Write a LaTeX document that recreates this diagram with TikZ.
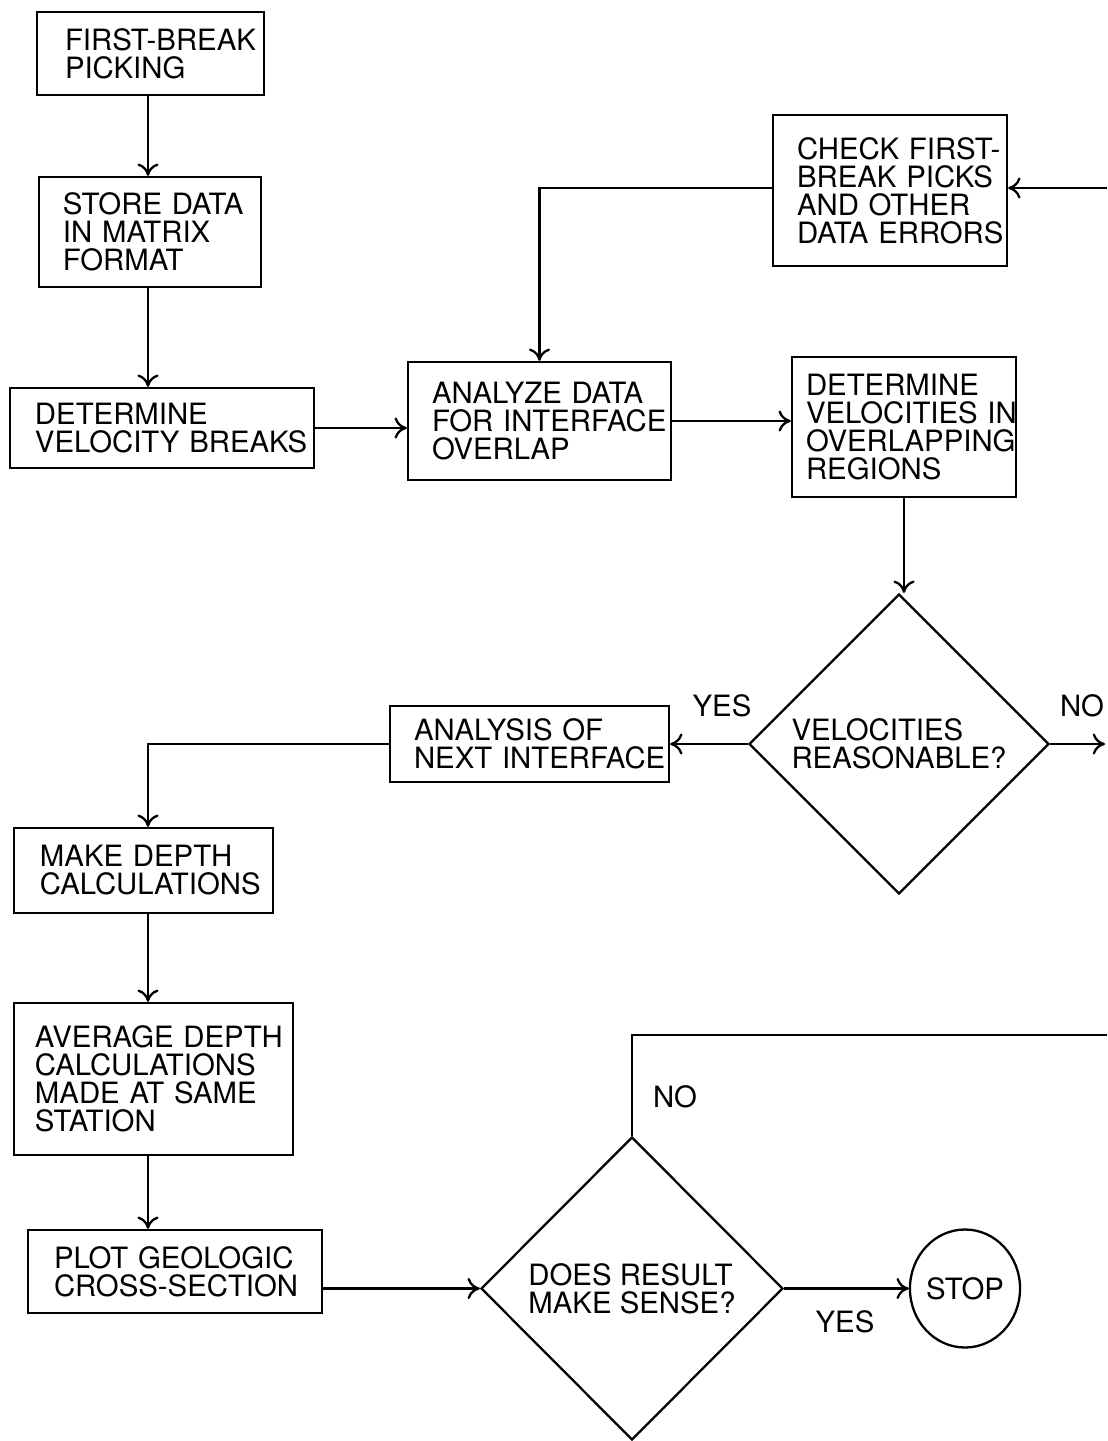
\documentclass[tikz,border=0pt]{standalone}
\usepackage{fontspec}
\setmainfont{TeX Gyre Heros}
\usetikzlibrary{shapes.geometric,arrows.meta}

\tikzset{
    box/.style={draw, align=left, inner xsep=0pt, inner ysep=2pt,
        execute at begin node={\leftskip=#1\hyphenpenalty=10000\exhyphenpenalty=10000}},
    box/.default=0.5cm,
    decision/.style={draw, diamond, align=left, inner sep=0pt,
        minimum width=6cm, minimum height=6cm},
    terminal/.style={draw, ellipse, inner sep=0pt},
}

\begin{document}
\begin{tikzpicture}[line width=1.3pt, >={To[length=7pt,width=12pt]},
    every node/.style={font=\fontsize{16.7}{15.9}\selectfont}]
    \useasboundingbox (0,0) rectangle (22.14,-28.82);
    \coordinate (spine) at (2.96,0);

    % left column
    \node[box=0.56cm, text width=4.54cm, minimum height=1.66cm] (first) at (3.01,-1.07) {FIRST-BREAK\\PICKING};
    \node[box=0.48cm, text width=4.44cm, minimum height=2.20cm] (store) at (3.00,-4.64) {STORE DATA\\IN MATRIX\\FORMAT};
    \node[box, text width=6.08cm, minimum height=1.60cm] (breaks) at (3.24,-8.56) {DETERMINE\\VELOCITY~BREAKS};

    \node[box=0.48cm, text width=5.26cm, minimum height=2.36cm] (analyze) at (10.79,-8.42) {ANALYZE DATA\\FOR~INTERFACE\\OVERLAP};
    \node[box=0.28cm, text width=4.48cm, minimum height=2.80cm] (velocities) at (18.08,-8.54) {DETERMINE\\VELOCITIES~IN\\OVERLAPPING\\REGIONS};
    \node[box=0.48cm, text width=4.68cm, minimum height=3.02cm] (check) at (17.80,-3.81) {CHECK FIRST-\\BREAK~PICKS\\AND OTHER\\DATA~ERRORS};

    \node[decision] (reason) at (17.98,-14.88) {VELOCITIES\\REASONABLE?};
    \node[box=0.48cm, text width=5.58cm, minimum height=1.52cm] (next) at (10.59,-14.88) {ANALYSIS OF\\NEXT~INTERFACE};

    \node[box=0.52cm, text width=5.18cm, minimum height=1.70cm] (depth) at (2.87,-17.41) {MAKE DEPTH\\CALCULATIONS};
    \node[box=0.42cm, text width=5.58cm, minimum height=3.04cm] (average) at (3.07,-21.58) {AVERAGE~DEPTH\\CALCULATIONS\\MADE AT SAME\\STATION};
    \node[box=0.52cm, text width=5.88cm, minimum height=1.66cm] (plot) at (3.50,-25.43) {PLOT GEOLOGIC\\CROSS-SECTION};

    \node[decision, minimum width=6.04cm, minimum height=6.06cm] (sense) at (12.64,-25.77) {DOES RESULT\\MAKE SENSE?};
    \node[terminal, minimum width=2.10cm, minimum height=2.36cm] (stop) at (19.30,-25.77) {STOP};

    % answers
    \node (yesa) at (14.44,-14.12) {YES};
    \node (noa) at (21.64,-14.12) {NO};
    \node (nob) at (13.50,-21.94) {NO};
    \node (yesb) at (16.90,-26.44) {YES};

    % loose ends at the right border
    \coordinate (recheck) at (22.14,-3.76);
    \coordinate (noout) at (22.10,-14.88);
    \coordinate (noback) at (22.14,-20.70);

    \draw[->] (spine |- first.south) -- (spine |- store.north);
    \draw[->] (spine |- store.south) -- (spine |- breaks.north);
    \draw[->] (breaks.east) -- (breaks.east -| analyze.west);
    \draw[->] (analyze.east) -- (analyze.east -| velocities.west);
    \draw[->] (recheck) -- (recheck -| check.east);
    \draw[->] (check.west |- recheck) -| (analyze.north);
    \draw[->] (velocities.south) -- (velocities.south |- reason.north);
    \draw[->] (reason.west) -- (reason.west -| next.east);
    \draw[->] (reason.east) -- (noout);
    \draw[->] (next.west) -| (spine |- depth.north);
    \draw[->] (spine |- depth.south) -- (spine |- average.north);
    \draw[->] (spine |- average.south) -- (spine |- plot.north);
    \draw[->] (plot.east |- sense.west) -- (sense.west);
    \draw[->] (sense.east) -- (stop.west);
    \draw (sense.north) |- (noback);
\end{tikzpicture}
\end{document}
